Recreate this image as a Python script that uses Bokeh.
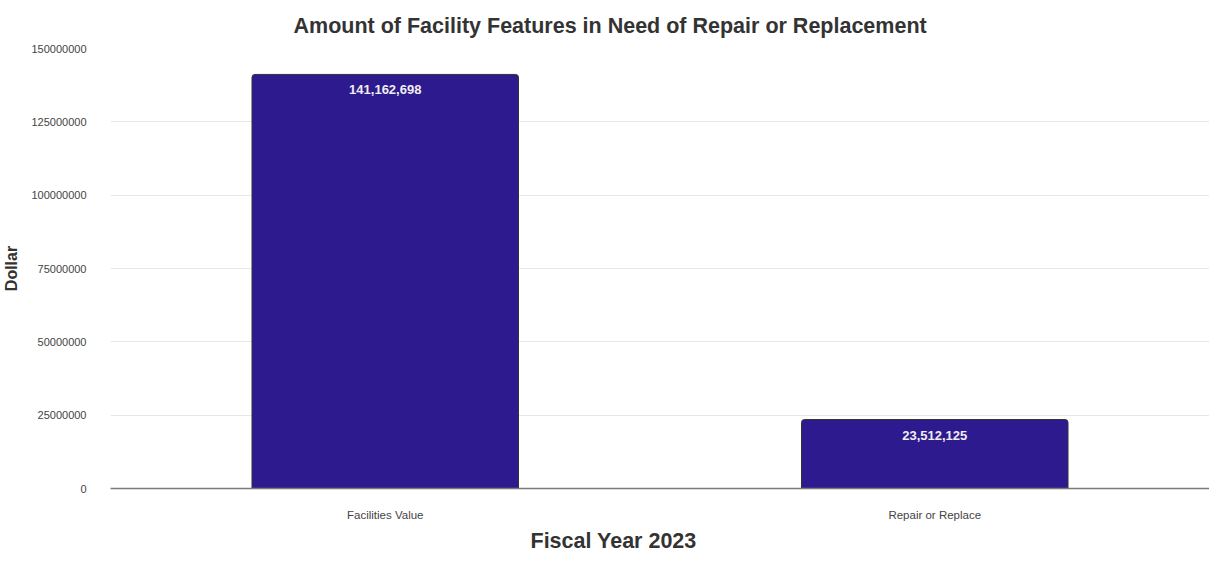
from bokeh.plotting import figure
from bokeh.models import ColumnDataSource, FixedTicker, NumeralTickFormatter, Title, Range1d
from bokeh.core.properties import value
from bokeh.embed import file_html
from bokeh.resources import INLINE

categories = ["Facilities Value", "Repair or Replace"]
amounts = [141162698, 23512125]
bar_labels = ["141,162,698", "23,512,125"]
y_ticks = [0, 25000000, 50000000, 75000000, 100000000, 125000000, 150000000]

FONT = "Liberation Sans"
src = ColumnDataSource(dict(cat=categories, amt=amounts, lab=bar_labels))

p = figure(x_range=categories, y_range=Range1d(0, 150000000),
           width=1209, height=555, output_backend="svg", toolbar_location=None,
           min_border_left=103, min_border_right=0, min_border_top=36, min_border_bottom=62)

p.title.text = "Amount of Facility Features in Need of Repair or Replacement"
p.title.align = "left"
p.title.offset = 183
p.title.standoff = 22
p.title.text_font = FONT
p.title.text_font_size = "21.5px"
p.title.text_font_style = "bold"
p.title.text_color = "#333333"

p.add_layout(Title(text="Fiscal Year 2023", align="left", offset=420,
                   text_font=FONT, text_font_size="21.5px", text_font_style="bold",
                   text_color="#333333", standoff=6), "below")

p.vbar(x="cat", top="amt", width=0.485, source=src, fill_color="#2e1a8f",
       line_color="#333333", line_width=1, border_radius=(3, 3, 0, 0))
p.text(x="cat", y="amt", text="lab", source=src, text_align="center", text_baseline="top",
       y_offset=11, text_font=value(FONT), text_font_style="bold", text_font_size="13px",
       text_color="#eeeeee")

p.outline_line_color = None
p.xgrid.grid_line_color = None
p.ygrid.grid_line_color = "#e6e6e6"
p.yaxis.ticker = FixedTicker(ticks=y_ticks)
p.yaxis.formatter = NumeralTickFormatter(format="0")
p.yaxis.axis_line_color = None
p.yaxis.major_tick_line_color = None
p.yaxis.minor_tick_line_color = None
p.yaxis.major_label_standoff = 18
p.yaxis.major_label_text_font = FONT
p.yaxis.major_label_text_font_size = "11px"
p.yaxis.major_label_text_color = "#444444"
p.yaxis.axis_label = "Dollar"
p.yaxis.axis_label_text_font = FONT
p.yaxis.axis_label_text_font_size = "16px"
p.yaxis.axis_label_text_font_style = "bold"
p.yaxis.axis_label_text_color = "#333333"
p.yaxis.axis_label_standoff = 8

p.xaxis.axis_line_color = "#7a7a7a"
p.xaxis.axis_line_width = 1.5
p.xaxis.major_tick_line_color = None
p.xaxis.minor_tick_line_color = None
p.xaxis.major_tick_out = 0
p.xaxis.major_label_standoff = 20
p.xaxis.major_label_text_font = FONT
p.xaxis.major_label_text_font_size = "11.5px"
p.xaxis.major_label_text_color = "#444444"

open("out.html", "w").write(file_html(p, INLINE))
